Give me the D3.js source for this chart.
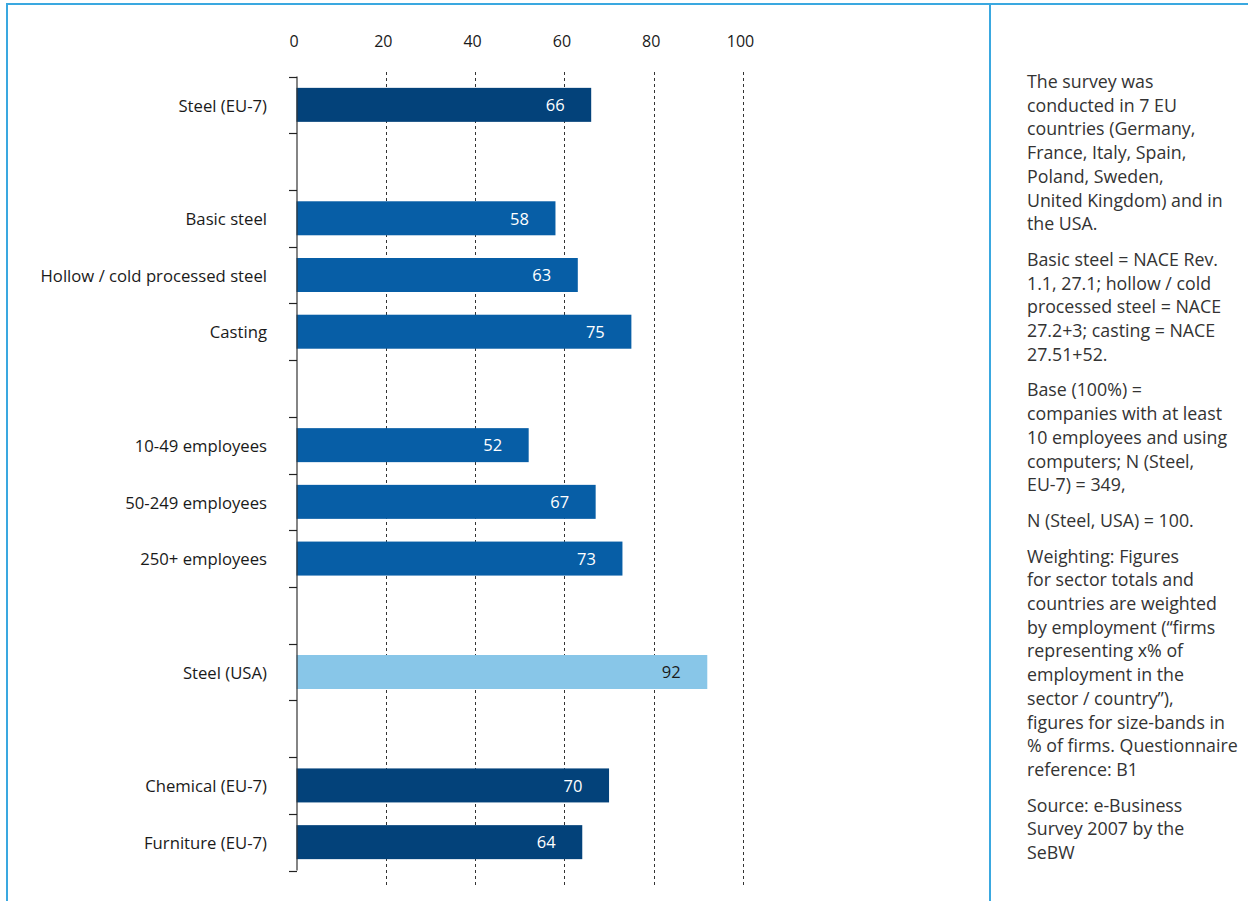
<!DOCTYPE html>
<html>
<head>
<meta charset="utf-8">
<script src="https://cdn.jsdelivr.net/npm/d3@7"></script>
<style>
  html, body { margin: 0; padding: 0; background: #fff; }
  svg { display: block; font-family: "Open Sans", "Noto Sans", sans-serif; }
</style>
</head>
<body>
<svg id="chart" width="1248" height="901"></svg>
<script>
// ---- data ----
const categories = ["Steel (EU-7)", "", "Basic steel", "Hollow / cold processed steel", "Casting", "",
  "10-49 employees", "50-249 employees", "250+ employees", "", "Steel (USA)", "", "Chemical (EU-7)", "Furniture (EU-7)"];
const values = [66, null, 58, 63, 75, null, 52, 67, 73, null, 92, null, 70, 64];
const groups = ["sector", null, "sub", "sub", "sub", null, "sub", "sub", "sub", null, "usa", null, "sector", "sector"];
const xTicks = [0, 20, 40, 60, 80, 100];
const notes = [
  ["The survey was", "conducted in 7 EU", "countries (Germany,", "France, Italy, Spain,", "Poland, Sweden,", "United Kingdom) and in", "the USA."],
  ["Basic steel = NACE Rev.", "1.1, 27.1; hollow / cold", "processed steel = NACE", "27.2+3; casting = NACE", "27.51+52."],
  ["Base (100%) =", "companies with at least", "10 employees and using", "computers; N (Steel,", "EU-7) = 349,"],
  ["N (Steel, USA) = 100."],
  ["Weighting: Figures", "for sector totals and", "countries are weighted", "by employment (\u201cfirms", "representing x% of", "employment in the", "sector / country\u201d),", "figures for size-bands in", "% of firms. Questionnaire", "reference: B1"],
  ["Source: e-Business", "Survey 2007 by the", "SeBW"]
];

const colors = { sector: "#03427a", sub: "#075ea6", usa: "#88c6e8" };
const labelColors = { sector: "#ffffff", sub: "#ffffff", usa: "#1a1a1a" };

const svg = d3.select("#chart");
const frameColor = "#3aa8e0";

// frame
svg.append("line").attr("x1", 7).attr("x2", 1248).attr("y1", 4).attr("y2", 4)
  .attr("stroke", frameColor).attr("stroke-width", 2);
svg.append("line").attr("x1", 7).attr("x2", 7).attr("y1", 3).attr("y2", 901)
  .attr("stroke", frameColor).attr("stroke-width", 2);
svg.append("line").attr("x1", 990).attr("x2", 990).attr("y1", 3).attr("y2", 901)
  .attr("stroke", frameColor).attr("stroke-width", 2);

const idx = categories.map((d, i) => i);
const x = d3.scaleLinear().domain([0, 100]).range([296.5, 743]);
const y = d3.scaleBand().domain(idx).range([76.5, 870.5]).paddingInner(0).paddingOuter(0);
const barH = 34;

// gridlines
svg.append("g").selectAll("line").data(xTicks.filter(d => d > 0)).join("line")
  .attr("x1", d => Math.round(x(d)) + 0.5).attr("x2", d => Math.round(x(d)) + 0.5)
  .attr("y1", 72).attr("y2", 888)
  .attr("stroke", "#333").attr("stroke-width", 1).attr("stroke-dasharray", "3,3");

// top axis labels
const xAxis = d3.axisTop(x).tickValues(xTicks).tickSize(0).tickPadding(0).tickFormat(d3.format("d"));
const gx = svg.append("g").attr("transform", "translate(-3,47)").call(xAxis);
gx.select(".domain").remove();
gx.selectAll("text").attr("font-size", 16).attr("fill", "#1a1a1a")
  .attr("font-family", "'Open Sans', sans-serif").attr("dy", 0);

// bars
const rows = idx.filter(i => values[i] !== null);
svg.append("g").selectAll("rect").data(rows).join("rect")
  .attr("x", x(0))
  .attr("y", i => y(i) + (y.bandwidth() - barH) / 2)
  .attr("width", i => x(values[i]) - x(0))
  .attr("height", barH)
  .attr("fill", i => colors[groups[i]]);

// value labels
svg.append("g").selectAll("text").data(rows).join("text")
  .attr("x", i => x(values[i]) - 36)
  .attr("y", i => y(i) + y.bandwidth() / 2)
  .attr("dy", "0.38em")
  .attr("text-anchor", "middle")
  .attr("font-size", 16.5)
  .attr("fill", i => labelColors[groups[i]])
  .text(i => values[i]);

// y axis line and ticks at slot boundaries
const boundaries = idx.map(i => y(i)).concat([y(idx[idx.length - 1]) + y.bandwidth()]);
svg.append("line").attr("x1", 297).attr("x2", 297)
  .attr("y1", boundaries[0]).attr("y2", boundaries[boundaries.length - 1])
  .attr("stroke", "#333").attr("stroke-width", 1.2);
svg.append("g").selectAll("line").data(boundaries).join("line")
  .attr("x1", 289).attr("x2", 297)
  .attr("y1", d => Math.round(d) + 0.5).attr("y2", d => Math.round(d) + 0.5)
  .attr("stroke", "#222").attr("stroke-width", 1.2);

// category labels
svg.append("g").selectAll("text").data(idx.filter(i => categories[i] !== "")).join("text")
  .attr("x", 267)
  .attr("y", i => y(i) + y.bandwidth() / 2)
  .attr("dy", "0.4em")
  .attr("text-anchor", "end")
  .attr("font-size", 16.7)
  .attr("fill", "#1a1a1a")
  .text(i => categories[i]);

// notes
const lineH = 23.7, paraGap = 12;
let yy = 88;
const gn = svg.append("g").attr("font-size", 17.8).attr("fill", "#333");
notes.forEach(p => {
  p.forEach(line => {
    gn.append("text").attr("x", 1027).attr("y", yy).text(line);
    yy += lineH;
  });
  yy += paraGap;
});
</script>
</body>
</html>
